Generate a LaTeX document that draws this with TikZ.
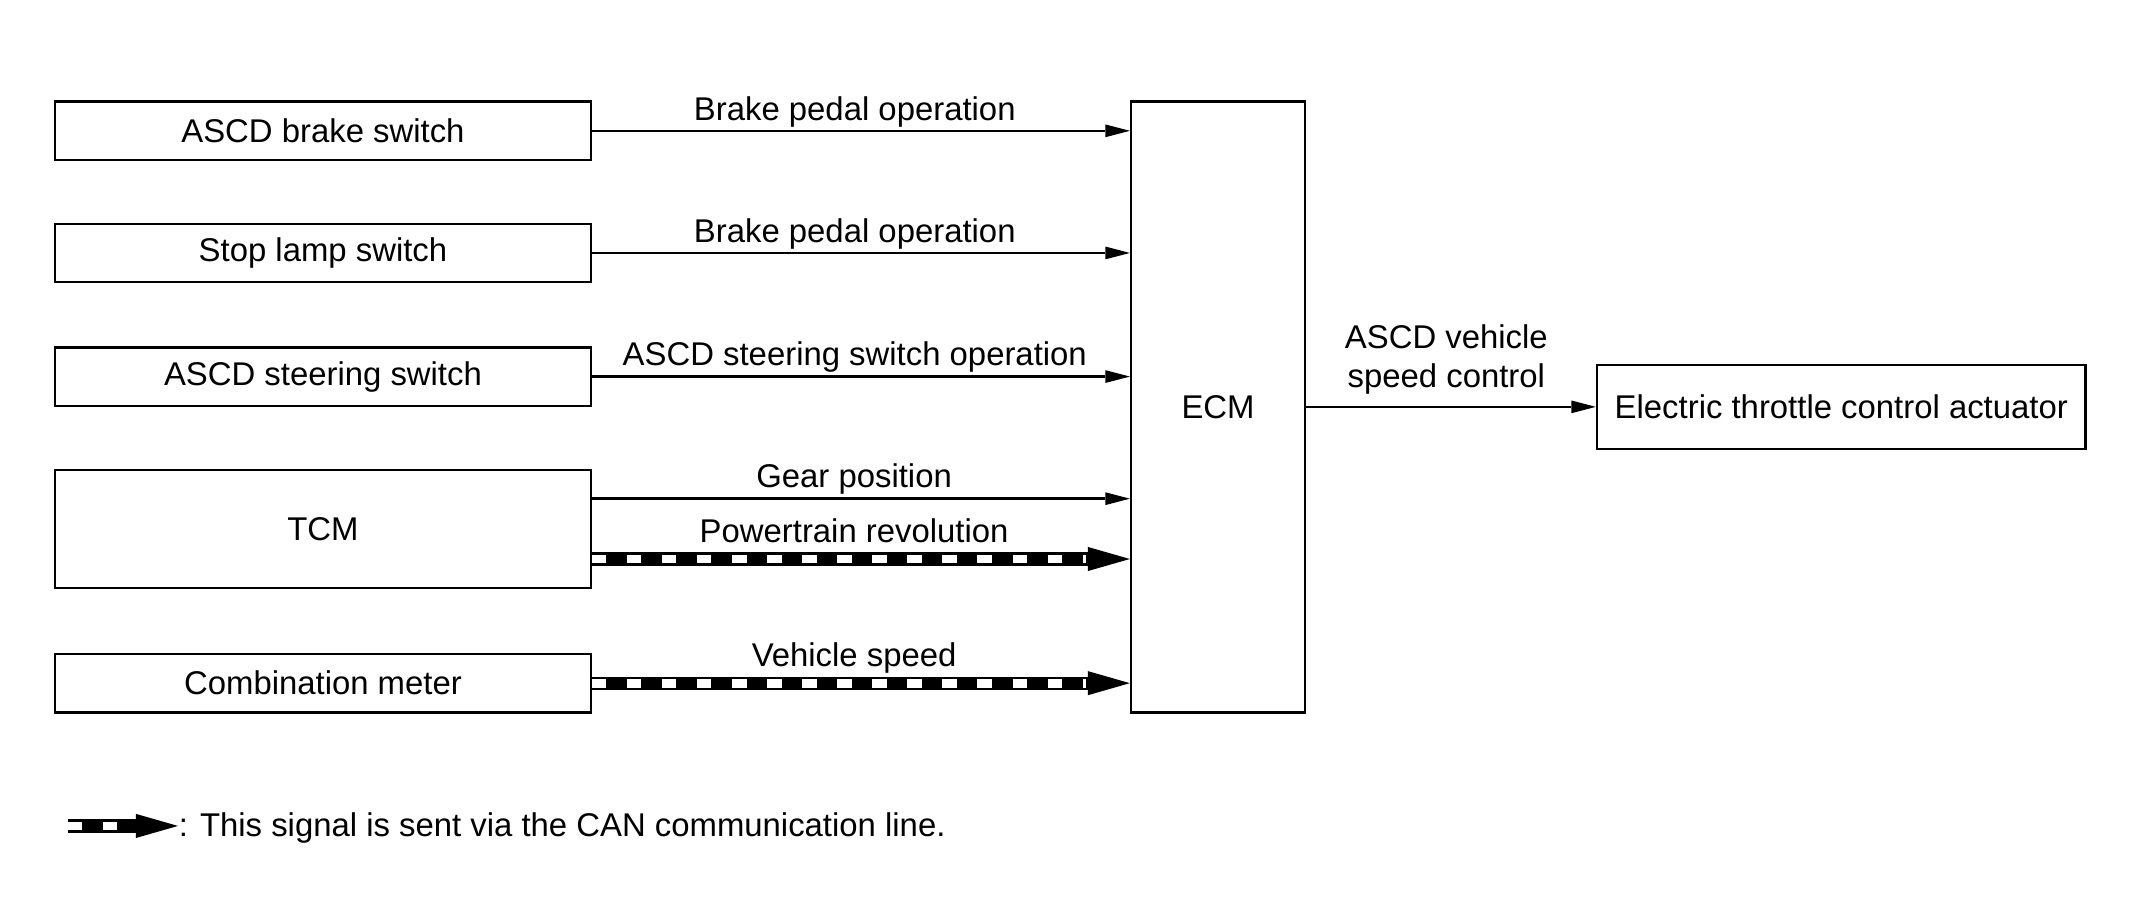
\documentclass[tikz,border=0pt]{standalone}
\usepackage{fontspec}
\setmainfont{Liberation Sans}
\usetikzlibrary{arrows.meta}
\begin{document}
\begin{tikzpicture}[x=0.5pt,y=-0.5pt,
  font=\fontsize{12.1}{14.25}\selectfont,
  box/.style={draw, line width=0.85pt, inner sep=0pt, minimum width=197.15pt, minimum height=21.5pt, align=center},
  sig/.style={line width=0.9pt, -{Triangle[length=9pt,width=4.7pt,line width=0pt]}},
  can/.style={line width=4.9pt, -{Triangle[length=15.5pt,width=8.9pt,line width=0pt]},
    postaction={draw=white, line width=3.2pt, dash pattern=on 5.3pt off 7.6pt, shorten >=16pt, -}},
  lbl/.style={anchor=base, inner sep=0pt, align=center}]

\useasboundingbox (0,0) rectangle (1568,660.3);

% boxes
\node[box] (brake) at (237.75,96.3) {ASCD brake switch};
\node[box] (stop) at (237.75,186.2) {Stop lamp switch};
\node[box] (steer) at (237.75,277.2) {ASCD steering switch};
\node[box, minimum height=43.3pt] (tcm) at (237.75,389.3) {TCM};
\node[box] (comb) at (237.75,502.9) {Combination meter};
\node[draw, line width=0.85pt, inner sep=0pt, minimum width=64.05pt, minimum height=224.9pt] (ecm) at (896.65,299.7) {ECM};
\node[box, minimum width=179.85pt, minimum height=30.9pt] (eta) at (1355.45,299.5) {Electric throttle control actuator};

% signal levels
\coordinate (yg) at (0,367.1);
\coordinate (yp) at (0,411.5);

% connectors
\draw[sig] (brake.east) -- (ecm.west |- brake.east)
  node[lbl, midway, yshift=3.9pt, xshift=-2.25pt] {Brake pedal operation};
\draw[sig] (stop.east) -- (ecm.west |- stop.east)
  node[lbl, midway, yshift=3.9pt, xshift=-2.25pt] {Brake pedal operation};
\draw[sig] (steer.east) -- (ecm.west |- steer.east)
  node[lbl, midway, yshift=3.9pt, xshift=-2.25pt] {ASCD steering switch operation};
\draw[sig] (tcm.east |- yg) -- (ecm.west |- yg)
  node[lbl, midway, yshift=4.15pt, xshift=-2.5pt] {Gear position};
\draw[can] (tcm.east |- yp) -- (ecm.west |- yp)
  node[lbl, midway, yshift=6pt, xshift=-2.5pt] {Powertrain revolution};
\draw[can] (comb.east) -- (ecm.west |- comb.east)
  node[lbl, midway, yshift=6pt, xshift=-2.5pt] {Vehicle speed};
\draw[sig] (ecm.east |- eta.west) -- (eta.west)
  node[lbl, midway, yshift=7.25pt, xshift=-1.7pt] {ASCD vehicle\\speed control};

% legend
\coordinate (l0) at (50,608);
\coordinate (l1) at (131,608);
\draw[can] (l0) -- (l1);
\node[anchor=base west, inner sep=0pt] (leg) at (131.2,616) {: This signal is sent via the CAN communication line.};
\end{tikzpicture}
\end{document}
